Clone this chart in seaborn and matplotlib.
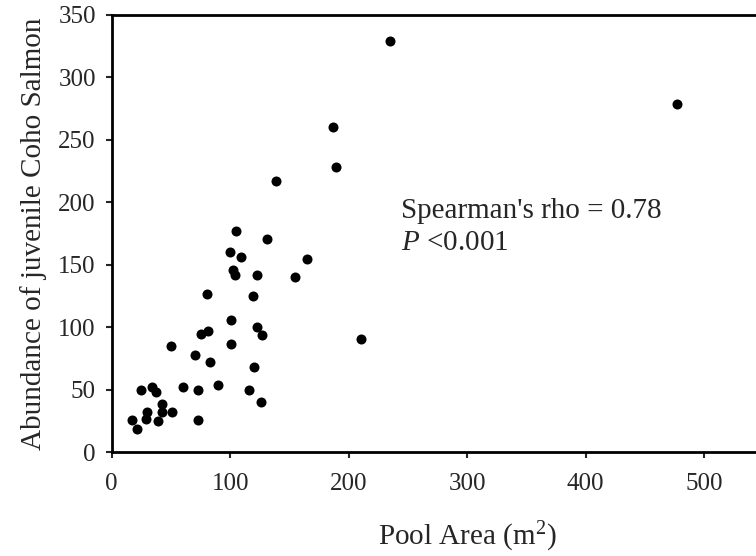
import pandas as pd
import seaborn as sns
import matplotlib.pyplot as plt

# values
pool_area = [235, 477, 187, 189, 139, 105, 131, 100, 109, 165, 102, 104, 123, 155,
             80, 119, 101, 123, 127, 75, 81, 210, 50, 101, 70, 83, 120, 90,
             60, 73, 116, 25, 34, 37, 126, 42, 30, 42, 51, 29, 17, 39, 73, 21]
coho_abundance = [329, 279, 260, 228, 217, 177, 171, 160, 156, 155, 146, 142, 142, 140,
                  127, 125, 106, 100, 94, 95, 97, 91, 85, 87, 78, 72, 68, 54,
                  52, 50, 50, 50, 52, 48, 40, 39, 32, 32, 32, 27, 26, 25, 26, 19]

x_ticks = [0, 100, 200, 300, 400, 500]
y_ticks = [0, 50, 100, 150, 200, 250, 300, 350]

df = pd.DataFrame({'area': pool_area, 'coho': coho_abundance})

sns.set_style('ticks')
plt.rcParams['font.family'] = ['Liberation Serif', 'DejaVu Serif']
plt.rcParams['mathtext.fontset'] = 'custom'
plt.rcParams['mathtext.rm'] = 'Liberation Serif'
plt.rcParams['mathtext.it'] = 'Liberation Serif:italic'

fig = plt.figure(figsize=(7.56, 5.56), dpi=100)
# axes run past the right edge, the reference is cropped there
ax = fig.add_axes([0.1478, 0.1862, 0.9405, 0.7869])

sns.scatterplot(data=df, x='area', y='coho', ax=ax, color='black',
                s=52, linewidth=0)

ax.set_xlim(0, 600)
ax.set_ylim(0, 350)
ax.set_xticks(x_ticks)
ax.set_yticks(y_ticks)
ax.tick_params(direction='out', length=4.5, width=1.5, labelsize=18)
ax.tick_params(axis='x', pad=10)
ax.tick_params(axis='y', pad=7)
for side in ['left', 'bottom', 'top', 'right']:
    ax.spines[side].set_linewidth(2)
    ax.spines[side].set_color('black')

ax.set_xlabel('Pool Area (m$^{2}$)', fontsize=21, labelpad=18)
ax.set_ylabel('Abundance of juvenile Coho Salmon', fontsize=21, labelpad=8)

ax.text(244, 187.6, "Spearman's rho = 0.78", fontsize=21, va='baseline')
ax.text(244, 162, "$\\mathit{P}$ <0.001", fontsize=21, va='baseline')

fig.savefig('out.png', dpi=100)
